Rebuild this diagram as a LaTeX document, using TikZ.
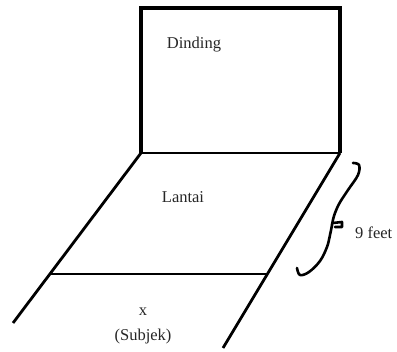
\documentclass[tikz,border=0pt]{standalone}
\usepackage{fontspec}
\setmainfont{Liberation Serif}
\usetikzlibrary{positioning}

\begin{document}
\begin{tikzpicture}[x=1pt,y=-1pt,
wall/.style={line width=3.8pt,line join=miter},
floor/.style={line width=2.8pt},
lbl/.style={font=\fontsize{16.5}{19}\selectfont,inner sep=0pt,align=center,text=black!85},
brace/.style={line width=2.6pt,line cap=round,line join=round}]
\useasboundingbox (0,0) rectangle (397,352);
% wall
\coordinate (wtl) at (141,8);
\coordinate (wtr) at (340,8);
\coordinate (wbl) at (141,153);
\coordinate (wbr) at (340,153);
\draw[wall] (wbl) -- (wtl) -- (wtr) -- (wbr);
\draw[floor] (wbl) -- (wbr);
% floor
\coordinate (fll) at (13,323);
\coordinate (frl) at (223,348);
\coordinate (cl) at (49,274);
\coordinate (cr) at (267,274);
\draw[floor] (wbl) -- (fll);
\draw[floor] (wbr) -- (frl);
\draw[floor] (cl) -- (cr);
% brace
\draw[brace] plot[smooth,tension=0.6] coordinates {(353,163) (359,165) (358,175) (348,190) (339,204) (334,216) (332,225)};
\draw[brace] (333,223) -- (342,222) -- (342,227) -- (335,227);
\draw[brace] plot[smooth,tension=0.6] coordinates {(332,225) (330,235) (327,247) (320,261) (309,272) (300,275) (297,268)};
% labels
\node[lbl] (dinding) at (194,45) {Dinding};
\node[lbl] (lantai) at (183,197) {Lantai};
\node[lbl] (x) at (143,312) {x};
\node[lbl] (subjek) at (143,337) {(Subjek)};
\node[lbl,anchor=west] (feet) at (355,233) {9 feet};
\end{tikzpicture}
\end{document}
